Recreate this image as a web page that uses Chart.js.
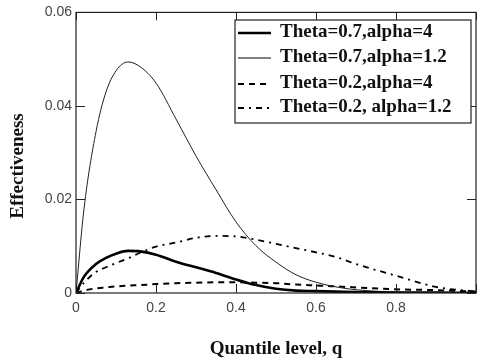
<!DOCTYPE html>
<html lang="en">
<head>
<meta charset="UTF-8">
<title>Effectiveness vs quantile level</title>
<style>
  html, body { margin: 0; padding: 0; background: #fff; }
  #wrap { width: 477px; height: 361px; }
</style>
</head>
<body>
<div id="wrap"><canvas id="chart" width="477" height="361"></canvas></div>
<script src="https://cdn.jsdelivr.net/npm/chart.js"></script>
<script>
// quantile levels q
const qLevels = [0, 0.02, 0.05, 0.075, 0.1, 0.13, 0.16, 0.2, 0.25, 0.3, 0.35, 0.4, 0.45, 0.5, 0.55, 0.6, 0.65, 0.7, 0.8, 0.9, 1.0];

// effectiveness
const theta07alpha4   = [0, 0.0035, 0.0062, 0.0075, 0.0084, 0.009, 0.0089, 0.0082, 0.0067, 0.0055, 0.0043, 0.0029, 0.0017, 0.0009, 0.0005, 0.0004, 0.0003, 0.0002, 0.0001, 0.0001, 0];
const theta07alpha12  = [0, 0.018, 0.0345, 0.043, 0.0475, 0.0494, 0.0484, 0.0449, 0.0372, 0.0293, 0.0221, 0.0152, 0.0101, 0.0066, 0.0039, 0.0023, 0.0013, 0.0007, 0.0002, 0.0001, 0];
const theta02alpha4   = [0, 0.0005, 0.001, 0.0012, 0.0014, 0.0016, 0.0017, 0.0019, 0.0021, 0.0022, 0.0023, 0.0023, 0.0022, 0.0021, 0.0018, 0.0016, 0.0014, 0.0012, 0.0008, 0.0006, 0.0003];
const theta02alpha12  = [0, 0.0022, 0.0045, 0.0055, 0.0064, 0.0074, 0.0086, 0.0099, 0.0108, 0.0118, 0.0122, 0.0121, 0.0114, 0.0105, 0.0096, 0.0087, 0.0077, 0.0062, 0.0037, 0.0013, 0.0003];

const seriesLabels = ['Theta=0.7,alpha=4', 'Theta=0.7,alpha=1.2', 'Theta=0.2,alpha=4', 'Theta=0.2, alpha=1.2'];

const xTicks = [0, 0.2, 0.4, 0.6, 0.8];
const yTicks = [0, 0.02, 0.04, 0.06];

function pts(vals) {
  return qLevels.map((q, i) => ({ x: q, y: vals[i] }));
}

const serif = "'Liberation Serif', 'Times New Roman', serif";
const sans = "'Liberation Sans', Arial, sans-serif";

// frame with inward ticks, y title, and boxed legend inside the plot
const framePlugin = {
  id: 'frame',
  afterDatasetsDraw(chart) {
    const { ctx, chartArea: a, scales } = chart;
    const xs = scales.x, ys = scales.y;
    ctx.save();
    ctx.strokeStyle = '#222';
    ctx.lineWidth = 1.2;
    ctx.setLineDash([]);
    ctx.strokeRect(a.left, a.top, a.right - a.left, a.bottom - a.top);
    ctx.lineWidth = 1;
    xTicks.concat([1]).forEach(v => {
      const px = Math.round(xs.getPixelForValue(v)) + 0.5;
      ctx.beginPath();
      ctx.moveTo(px, a.bottom); ctx.lineTo(px, a.bottom - 9);
      ctx.moveTo(px, a.top); ctx.lineTo(px, a.top + 8);
      ctx.stroke();
    });
    yTicks.forEach(v => {
      const py = Math.round(ys.getPixelForValue(v)) + 0.5;
      ctx.beginPath();
      ctx.moveTo(a.left, py); ctx.lineTo(a.left + 9, py);
      ctx.moveTo(a.right, py); ctx.lineTo(a.right - 9, py);
      ctx.stroke();
    });

    // y axis title
    ctx.save();
    ctx.translate(23, 166);
    ctx.rotate(-Math.PI / 2);
    ctx.fillStyle = '#111';
    ctx.font = 'bold 19px ' + serif;
    ctx.textAlign = 'center';
    ctx.textBaseline = 'alphabetic';
    ctx.fillText('Effectiveness', 0, 0);
    ctx.restore();

    // legend box
    const bx = 235, by = 20, bw = 236, bh = 103;
    ctx.fillStyle = '#fff';
    ctx.fillRect(bx, by, bw, bh);
    ctx.lineWidth = 1.2;
    ctx.strokeStyle = '#222';
    ctx.strokeRect(bx, by, bw, bh);
    const rowY = [33, 58, 84, 108];
    chart.data.datasets.forEach((ds, i) => {
      ctx.beginPath();
      ctx.strokeStyle = '#000';
      ctx.lineWidth = ds.borderWidth;
      ctx.setLineDash(ds.borderDash || []);
      ctx.moveTo(238, rowY[i]); ctx.lineTo(271, rowY[i]);
      ctx.stroke();
      ctx.setLineDash([]);
      ctx.fillStyle = '#111';
      ctx.font = 'bold 19px ' + serif;
      ctx.textAlign = 'left';
      ctx.textBaseline = 'alphabetic';
      ctx.fillText(ds.label, 280, rowY[i] + 3.5);
    });
    ctx.restore();
  }
};

new Chart(document.getElementById('chart'), {
  type: 'line',
  data: {
    datasets: [
      { label: seriesLabels[0], data: pts(theta07alpha4), borderColor: '#000', borderWidth: 2.6, borderDash: [] },
      { label: seriesLabels[1], data: pts(theta07alpha12), borderColor: '#222', borderWidth: 1, borderDash: [] },
      { label: seriesLabels[2], data: pts(theta02alpha4), borderColor: '#000', borderWidth: 2, borderDash: [6, 5] },
      { label: seriesLabels[3], data: pts(theta02alpha12), borderColor: '#000', borderWidth: 1.8, borderDash: [6, 5, 2, 5] }
    ]
  },
  options: {
    responsive: false,
    animation: false,
    layout: { padding: { top: 9, right: 1, left: 0, bottom: 0 } },
    elements: {
      point: { radius: 0 },
      line: { tension: 0.4, cubicInterpolationMode: 'monotone', fill: false }
    },
    plugins: {
      legend: { display: false },
      tooltip: { enabled: false }
    },
    scales: {
      x: {
        type: 'linear',
        min: 0, max: 1,
        afterFit(s) { s.height = 68; },
        afterBuildTicks(s) { s.ticks = xTicks.map(v => ({ value: v })); },
        grid: { display: false, drawTicks: false },
        border: { display: false },
        ticks: { padding: 7, color: '#444', font: { family: sans, size: 14 }, autoSkip: false, maxRotation: 0,
          callback: v => String(v) },
        title: { display: true, text: 'Quantile level, q', color: '#111',
          font: { family: serif, size: 19, weight: 'bold' }, padding: { top: 0, bottom: 1 } }
      },
      y: {
        type: 'linear',
        min: 0, max: 0.06,
        afterFit(s) { s.width = 76; },
        afterBuildTicks(s) { s.ticks = yTicks.map(v => ({ value: v })); },
        grid: { display: false, drawTicks: false },
        border: { display: false },
        ticks: { padding: 4, color: '#444', font: { family: sans, size: 14 },
          callback: v => String(v) }
      }
    }
  },
  plugins: [framePlugin]
});
</script>
</body>
</html>
